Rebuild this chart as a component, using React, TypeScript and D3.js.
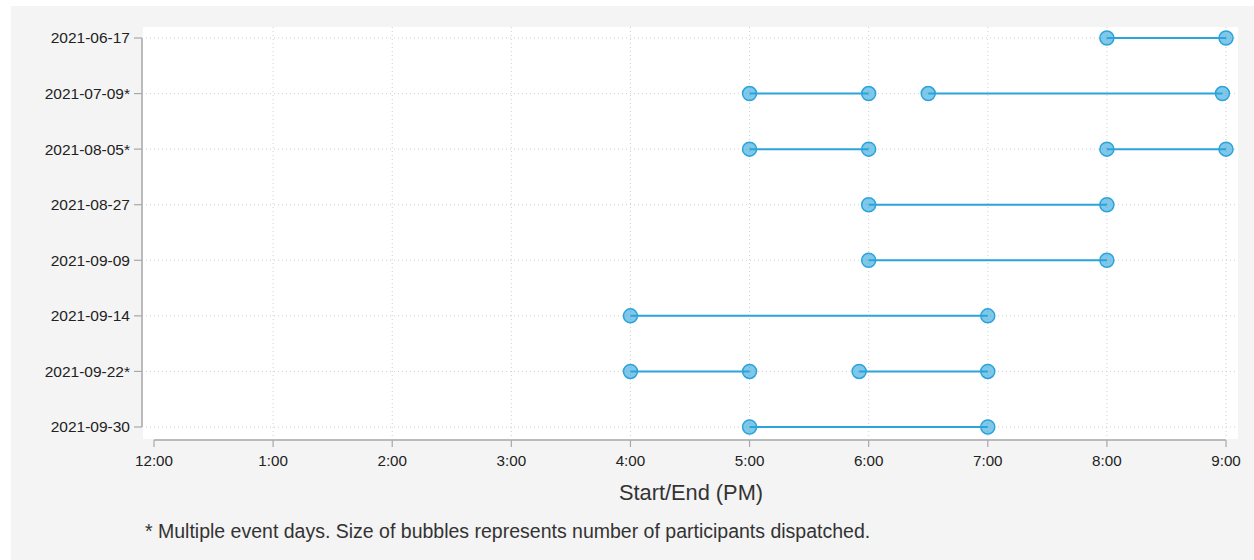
import React from "react";
import * as d3 from "d3";

const categories = [
  "2021-06-17",
  "2021-07-09*",
  "2021-08-05*",
  "2021-08-27",
  "2021-09-09",
  "2021-09-14",
  "2021-09-22*",
  "2021-09-30",
];

// segments: date, start hour (PM), end hour (PM)
const segDates = [
  "2021-06-17",
  "2021-07-09*",
  "2021-07-09*",
  "2021-08-05*",
  "2021-08-05*",
  "2021-08-27",
  "2021-09-09",
  "2021-09-14",
  "2021-09-22*",
  "2021-09-22*",
  "2021-09-30",
];
const segStart = [8, 5, 6.5, 5, 8, 6, 6, 4, 4, 5.92, 5];
const segEnd = [9, 6, 8.97, 6, 9, 8, 8, 7, 5, 7, 7];

const xTickValues = [0, 1, 2, 3, 4, 5, 6, 7, 8, 9];
const xTickLabels = ["12:00", "1:00", "2:00", "3:00", "4:00", "5:00", "6:00", "7:00", "8:00", "9:00"];

const W = 1254;
const H = 560;
const font = "'Liberation Sans', Arial, sans-serif";
const blue = "#2ba3db";

export default function App() {
  const x = d3.scaleLinear().domain([0, 9]).range([154, 1226]);
  const y = d3.scalePoint<string>().domain(categories).range([38, 427]);
  const plot = { left: 143, right: 1238, top: 27, bottom: 439 };

  return (
    <svg
      width={W}
      height={H}
      style={{ position: "absolute", left: 0, top: 0, display: "block" }}
    >
      <rect x={0} y={0} width={W} height={H} fill="#ffffff" />
      <rect x={11} y={6} width={W - 11} height={H - 6} fill="#f4f4f4" />
      <rect
        x={plot.left}
        y={plot.top}
        width={plot.right - plot.left}
        height={plot.bottom - plot.top}
        fill="#ffffff"
      />
      {/* vertical grid */}
      {xTickValues.slice(1).map((v) => (
        <line
          key={"vg" + v}
          x1={x(v)}
          x2={x(v)}
          y1={plot.top}
          y2={plot.bottom}
          stroke="#cfcfcf"
          strokeWidth={1}
          strokeDasharray="1 3"
        />
      ))}
      {/* horizontal grid */}
      {categories.map((c) => (
        <line
          key={"hg" + c}
          x1={146}
          x2={plot.right}
          y1={y(c)}
          y2={y(c)}
          stroke="#cfcfcf"
          strokeWidth={1}
          strokeDasharray="1 3"
        />
      ))}
      {/* y axis */}
      <line x1={142} x2={142} y1={y(categories[0])} y2={y(categories[categories.length - 1])} stroke="#a8a8a8" strokeWidth={1.5} />
      {categories.map((c) => (
        <g key={"yt" + c}>
          <line x1={134} x2={142} y1={y(c)} y2={y(c)} stroke="#a8a8a8" strokeWidth={1.2} />
          <text
            x={130}
            y={y(c)}
            dy="0.35em"
            textAnchor="end"
            fontFamily={font}
            fontSize={15.5}
            fill="#222"
          >
            {c}
          </text>
        </g>
      ))}
      {/* x axis */}
      <line x1={x(0)} x2={x(9)} y1={440} y2={440} stroke="#a8a8a8" strokeWidth={1.5} />
      {xTickValues.map((v, i) => (
        <g key={"xt" + v}>
          <line x1={x(v)} x2={x(v)} y1={440} y2={447} stroke="#a8a8a8" strokeWidth={1.2} />
          <text
            x={x(v)}
            y={461}
            dy="0.35em"
            textAnchor="middle"
            fontFamily={font}
            fontSize={15.2}
            fill="#222"
          >
            {xTickLabels[i]}
          </text>
        </g>
      ))}
      <text
        x={691}
        y={492}
        dy="0.35em"
        textAnchor="middle"
        fontFamily={font}
        fontSize={21.8}
        fill="#333"
      >
        Start/End (PM)
      </text>
      <text x={145} y={531} dy="0.35em" fontFamily={font} fontSize={19.5} fill="#333">
        * Multiple event days. Size of bubbles represents number of participants dispatched.
      </text>
      {/* segments */}
      {segDates.map((d, i) => (
        <line
          key={"s" + i}
          x1={x(segStart[i])}
          x2={x(segEnd[i])}
          y1={y(d)}
          y2={y(d)}
          stroke={blue}
          strokeWidth={2}
        />
      ))}
      {segDates.map((d, i) => (
        <g key={"c" + i}>
          <circle cx={x(segStart[i])} cy={y(d)} r={7} fill={blue} fillOpacity={0.6} stroke={blue} strokeWidth={1.5} />
          <circle cx={x(segEnd[i])} cy={y(d)} r={7} fill={blue} fillOpacity={0.6} stroke={blue} strokeWidth={1.5} />
        </g>
      ))}
    </svg>
  );
}
